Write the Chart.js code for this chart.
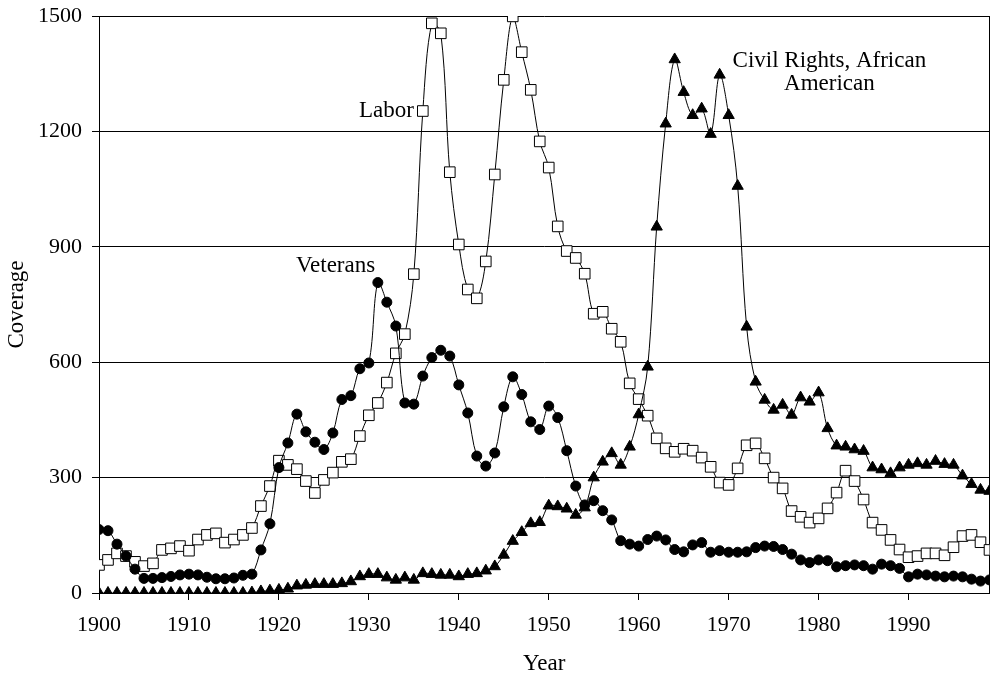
<!DOCTYPE html>
<html>
<head>
<meta charset="utf-8">
<script src="https://cdn.jsdelivr.net/npm/chart.js@4/dist/chart.umd.min.js"></script>
<style>
    html, body { margin: 0; padding: 0; background: #fff; }
    #wrap { width: 998px; height: 676px; }
</style>
</head>
<body>
<div id="wrap"><canvas id="coverageChart" width="998" height="676"></canvas></div>
<script>
// years on the x axis
const years = Array.from({ length: 100 }, (_, i) => 1900 + i);
const xTicks = [1900, 1910, 1920, 1930, 1940, 1950, 1960, 1970, 1980, 1990];
const yTicks = [0, 300, 600, 900, 1200, 1500];

const labor = [
    73, 86, 103, 96, 81, 70, 77, 112, 116, 122,
    110, 139, 151, 155, 131, 139, 151, 169, 226, 278,
    344, 333, 322, 291, 260, 294, 313, 341, 348, 408,
    462, 494, 547, 623, 673, 829, 1253, 1481, 1455, 1094,
    906, 789, 766, 862, 1088, 1334, 1499, 1406, 1308, 1174,
    1106, 953, 889, 871, 830, 726, 731, 687, 653, 545,
    504, 461, 402, 376, 367, 375, 370, 352, 328, 287,
    281, 324, 384, 389, 350, 300, 272, 213, 198, 183,
    194, 220, 261, 318, 291, 243, 183, 164, 138, 113,
    93, 96, 103, 103, 98, 119, 148, 151, 132, 112
];

const veterans = [
    165, 162, 127, 96, 62, 38, 38, 40, 43, 47,
    49, 47, 41, 37, 37, 39, 46, 49, 112, 180,
    326, 390, 465, 419, 392, 373, 416, 503, 513, 583,
    598, 807, 756, 694, 494, 491, 564, 612, 631, 616,
    541, 468, 356, 330, 364, 484, 562, 516, 445, 425,
    486, 456, 370, 278, 229, 240, 214, 190, 136, 127,
    122, 139, 148, 138, 113, 107, 125, 131, 106, 110,
    106, 106, 107, 118, 122, 121, 113, 101, 86, 79,
    86, 84, 68, 71, 73, 71, 62, 75, 71, 64,
    42, 49, 47, 44, 42, 44, 42, 36, 31, 34
];

const civilRights = [
    0, 0, 0, 0, 0, 0, 0, 0, 0, 0,
    0, 0, 0, 0, 0, 0, 0, 1, 4, 6,
    8, 11, 19, 21, 23, 23, 23, 25, 30, 43,
    49, 49, 40, 34, 40, 34, 51, 49, 47, 47,
    43, 49, 51, 58, 69, 99, 135, 158, 181, 184,
    227, 225, 219, 203, 222, 300, 341, 363, 333, 380,
    464, 588, 952, 1220, 1387, 1302, 1242, 1259, 1193, 1347,
    1242, 1058, 692, 549, 502, 476, 489, 463, 508, 497,
    521, 428, 383, 380, 373, 369, 326, 321, 311, 326,
    333, 337, 333, 343, 335, 333, 305, 283, 268, 265
];

// text labels placed next to the curves
const seriesLabels = [
    { lines: ['Labor'], x: 1935.0, y: 1252, align: 'right' },
    { lines: ['Veterans'], x: 1926.3, y: 849, align: 'center' },
    { lines: ['Civil Rights, African', 'American'], x: 1981.2, y: 1382, align: 'center' }
];

const serif = '"Liberation Serif", "Times New Roman", serif';

const seriesLabelPlugin = {
    id: 'seriesLabels',
    afterDatasetsDraw(chart) {
        const { ctx, scales } = chart;
        ctx.save();
        ctx.fillStyle = '#000';
        ctx.font = '23px ' + serif;
        ctx.textBaseline = 'middle';
        seriesLabels.forEach(lbl => {
            ctx.textAlign = lbl.align;
            const px = scales.x.getPixelForValue(lbl.x);
            const py = scales.y.getPixelForValue(lbl.y);
            lbl.lines.forEach((line, i) => {
                ctx.fillText(line, px, py + i * 23);
            });
        });
        ctx.restore();
    }
};

const makeSeries = (label, values, style, radius, fill) => ({
    label,
    data: values,
    borderColor: '#000',
    borderWidth: 1,
    pointStyle: style,
    pointRadius: radius,
    pointBackgroundColor: fill,
    pointBorderColor: '#000',
    pointBorderWidth: 1,
    tension: 0.35,
    fill: false
});

new Chart(document.getElementById('coverageChart'), {
    type: 'line',
    data: {
        labels: years,
        datasets: [
            makeSeries('Civil Rights, African American', civilRights, 'triangle', 6.5, '#000'),
            makeSeries('Veterans', veterans, 'circle', 5, '#000'),
            makeSeries('Labor', labor, 'rect', 7.5, '#fff')
        ]
    },
    options: {
        responsive: false,
        animation: false,
        layout: { padding: { top: 16, right: 0, bottom: 0, left: 0 } },
        plugins: {
            legend: { display: false },
            tooltip: { enabled: false }
        },
        scales: {
            x: {
                type: 'linear',
                min: 1900,
                max: 1999,
                afterBuildTicks: (scale) => { scale.ticks = xTicks.map(v => ({ value: v })); },
                afterFit: (scale) => { scale.height = 83; },
                grid: { drawOnChartArea: false, drawTicks: true, tickLength: 7, color: '#000' },
                border: { display: true, color: '#000', width: 1 },
                ticks: {
                    color: '#000',
                    padding: 12,
                    maxRotation: 0,
                    font: { family: serif, size: 22 },
                    callback: (v) => String(v)
                },
                title: {
                    display: true,
                    text: 'Year',
                    color: '#000',
                    padding: { top: 0, bottom: -2 },
                    font: { family: serif, size: 23 }
                }
            },
            y: {
                min: 0,
                max: 1500,
                afterBuildTicks: (scale) => { scale.ticks = yTicks.map(v => ({ value: v })); },
                afterFit: (scale) => {
                    scale.width = 99;
                    scale.paddingTop = 0;
                    scale.paddingBottom = 0;
                },
                grid: { color: '#000', lineWidth: 1, drawTicks: true, tickLength: 7 },
                border: { display: true, color: '#000', width: 1 },
                ticks: {
                    color: '#000',
                    padding: 10,
                    font: { family: serif, size: 22 },
                    callback: (v) => String(v)
                },
                title: {
                    display: true,
                    text: 'Coverage',
                    color: '#000',
                    padding: { top: 3, bottom: 0 },
                    font: { family: serif, size: 23 }
                }
            },
            frame: {
                position: 'right',
                min: 0,
                max: 1,
                afterFit: (scale) => {
                    scale.width = 8;
                    scale.paddingTop = 0;
                    scale.paddingBottom = 0;
                },
                grid: { drawOnChartArea: false, drawTicks: false },
                border: { display: true, color: '#000', width: 1 },
                ticks: { display: false }
            }
        }
    },
    plugins: [seriesLabelPlugin]
});
</script>
</body>
</html>
